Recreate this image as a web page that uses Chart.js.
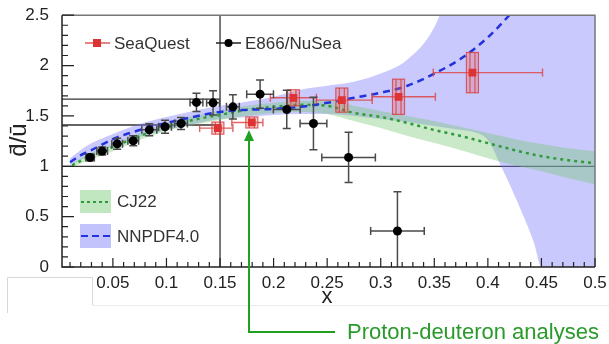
<!DOCTYPE html>
<html>
<head>
<meta charset="utf-8">
<script src="https://cdn.jsdelivr.net/npm/chart.js@4.4.1/dist/chart.umd.min.js"></script>
<style>
  html, body { margin: 0; padding: 0; background: #fff; }
</style>
</head>
<body>
<canvas id="chart" width="609" height="344"></canvas>
<script>
// E866/NuSea points
const e866X = [0.0287, 0.040, 0.054, 0.069, 0.084, 0.0987, 0.1136, 0.128, 0.1435, 0.162, 0.1874, 0.2123, 0.2372, 0.270, 0.3156]
const e866Y = [1.088, 1.151, 1.223, 1.253, 1.362, 1.392, 1.425, 1.634, 1.63, 1.59, 1.716, 1.564, 1.425, 1.088, 0.357]
const e866XErr = [0.004, 0.005, 0.005, 0.005, 0.007, 0.006, 0.006, 0.006, 0.006, 0.006, 0.0125, 0.0125, 0.0125, 0.025, 0.025]
const e866YErr = [0.035, 0.04, 0.055, 0.05, 0.06, 0.065, 0.06, 0.09, 0.12, 0.12, 0.14, 0.19, 0.26, 0.25, 0.39]

// SeaQuest points
const seaX = [0.148, 0.1797, 0.2185, 0.2637, 0.3166, 0.3856]
const seaY = [1.379, 1.435, 1.68, 1.657, 1.69, 1.93]
const seaXLo = [0.131, 0.161, 0.197, 0.240, 0.292, 0.349]
const seaXHi = [0.162, 0.190, 0.240, 0.292, 0.351, 0.451]
const seaSys = [0.06, 0.055, 0.08, 0.12, 0.175, 0.2]

// NNPDF4.0 central curve
const nnpdfX = [0.01, 0.02, 0.03, 0.05, 0.075, 0.1, 0.125, 0.15, 0.175, 0.2, 0.225, 0.25, 0.275, 0.3, 0.325, 0.35, 0.375, 0.4, 0.42, 0.44]
const nnpdfY = [1.04, 1.11, 1.16, 1.27, 1.36, 1.43, 1.49, 1.54, 1.56, 1.57, 1.59, 1.63, 1.68, 1.73, 1.80, 1.92, 2.07, 2.28, 2.5, 2.75]

// NNPDF4.0 band
const nnpdfBandX = [0.01, 0.025, 0.05, 0.075, 0.1, 0.125, 0.15, 0.175, 0.2, 0.225, 0.25, 0.275, 0.3, 0.325, 0.35, 0.375, 0.39, 0.4, 0.411, 0.427, 0.443, 0.45, 0.5]
const nnpdfLow = [1.01, 1.09, 1.20, 1.29, 1.36, 1.42, 1.47, 1.49, 1.51, 1.52, 1.52, 1.50, 1.47, 1.44, 1.40, 1.36, 1.33, 1.26, 1.03, 0.66, 0.24, 0, 0]
const nnpdfHigh = [1.08, 1.20, 1.32, 1.42, 1.49, 1.55, 1.60, 1.64, 1.69, 1.76, 1.80, 1.84, 1.92, 2.06, 2.38, 3.1, 3.5, 3.7, 3.9, 4.1, 4.3, 4.4, 4.6]

// CJ22 curve and band
const cjX = [0.012, 0.025, 0.05, 0.075, 0.1, 0.125, 0.15, 0.175, 0.2, 0.225, 0.25, 0.275, 0.3, 0.325, 0.35, 0.375, 0.4, 0.425, 0.45, 0.475, 0.5]
const cjY = [1.01, 1.08, 1.19, 1.30, 1.39, 1.46, 1.51, 1.56, 1.59, 1.61, 1.60, 1.53, 1.49, 1.43, 1.36, 1.30, 1.23, 1.16, 1.10, 1.06, 1.03]
const cjLow = [0.99, 1.05, 1.15, 1.26, 1.35, 1.41, 1.46, 1.50, 1.53, 1.54, 1.52, 1.45, 1.38, 1.30, 1.23, 1.16, 1.08, 1.01, 0.95, 0.88, 0.82]
const cjHigh = [1.03, 1.11, 1.22, 1.33, 1.43, 1.50, 1.55, 1.60, 1.63, 1.65, 1.65, 1.60, 1.55, 1.50, 1.45, 1.39, 1.33, 1.27, 1.22, 1.18, 1.15]

// axes
const xTicks = [0.05, 0.1, 0.15, 0.2, 0.25, 0.3, 0.35, 0.4, 0.45, 0.5]
const xTickLabels = ['0.05', '0.1', '0.15', '0.2', '0.25', '0.3', '0.35', '0.4', '0.45', '0.5']
const yTicks = [0, 0.5, 1, 1.5, 2, 2.5]
const yTickLabels = ['0', '0.5', '1', '1.5', '2', '2.5']

// reference lines
const unityY = 1
const guideX = 0.15
const guideY = [1.41, 1.667]

const pts = (xs, ys) => xs.map((x, i) => ({ x: x, y: ys[i] }))
const FONT = '"Liberation Sans", Arial, sans-serif'

const guides = {
  id: 'guides',
  beforeDatasetsDraw(chart) {
    const { ctx, chartArea: a, scales: { x, y } } = chart
    ctx.save()
    ctx.strokeStyle = '#333'
    ctx.lineWidth = 1.3
    ctx.beginPath()
    ctx.moveTo(a.left, y.getPixelForValue(unityY))
    ctx.lineTo(a.right, y.getPixelForValue(unityY))
    guideY.forEach(v => {
      ctx.moveTo(a.left, y.getPixelForValue(v))
      ctx.lineTo(x.getPixelForValue(guideX), y.getPixelForValue(v))
    })
    ctx.moveTo(x.getPixelForValue(guideX), a.top)
    ctx.lineTo(x.getPixelForValue(guideX), a.bottom)
    ctx.stroke()
    ctx.restore()
  }
}

// error bars and systematic boxes, drawn under the markers
const errorBars = {
  id: 'errorBars',
  beforeDatasetDraw(chart, args) {
    if (args.index !== 1) return
    const { ctx, chartArea: a, scales: { x, y } } = chart
    ctx.save()
    ctx.beginPath()
    ctx.rect(a.left, a.top, a.right - a.left, a.bottom - a.top)
    ctx.clip()

    // SeaQuest
    seaX.forEach((v, i) => {
      const cx = x.getPixelForValue(v)
      const cy = y.getPixelForValue(seaY[i])
      const x0 = x.getPixelForValue(seaXLo[i])
      const x1 = x.getPixelForValue(seaXHi[i])
      const yt = y.getPixelForValue(seaY[i] + seaSys[i])
      const yb = y.getPixelForValue(seaY[i] - seaSys[i])
      ctx.strokeStyle = 'rgba(220,70,70,0.85)'
      ctx.lineWidth = 1.4
      ctx.beginPath()
      ctx.moveTo(x0, cy); ctx.lineTo(x1, cy)
      ctx.moveTo(x0, cy - 4); ctx.lineTo(x0, cy + 4)
      ctx.moveTo(x1, cy - 4); ctx.lineTo(x1, cy + 4)
      ctx.stroke()
      ctx.fillStyle = 'rgba(235,100,100,0.3)'
      ctx.fillRect(cx - 6, yt, 12, yb - yt)
      ctx.strokeStyle = 'rgba(215,60,60,0.8)'
      ctx.lineWidth = 1.2
      ctx.strokeRect(cx - 6, yt, 12, yb - yt)
      ctx.beginPath()
      ctx.moveTo(cx - 2.5, yt); ctx.lineTo(cx - 2.5, yb)
      ctx.moveTo(cx + 2.5, yt); ctx.lineTo(cx + 2.5, yb)
      ctx.stroke()
    })

    // E866
    ctx.strokeStyle = '#4a4a4a'
    ctx.lineWidth = 1.5
    e866X.forEach((v, i) => {
      const cx = x.getPixelForValue(v)
      const cy = y.getPixelForValue(e866Y[i])
      const x0 = x.getPixelForValue(v - e866XErr[i])
      const x1 = x.getPixelForValue(v + e866XErr[i])
      const y0 = y.getPixelForValue(e866Y[i] + e866YErr[i])
      const y1 = y.getPixelForValue(e866Y[i] - e866YErr[i])
      ctx.beginPath()
      ctx.moveTo(x0, cy); ctx.lineTo(x1, cy)
      ctx.moveTo(x0, cy - 4); ctx.lineTo(x0, cy + 4)
      ctx.moveTo(x1, cy - 4); ctx.lineTo(x1, cy + 4)
      ctx.moveTo(cx, y0); ctx.lineTo(cx, y1)
      ctx.moveTo(cx - 4, y0); ctx.lineTo(cx + 4, y0)
      ctx.moveTo(cx - 4, y1); ctx.lineTo(cx + 4, y1)
      ctx.stroke()
    })
    ctx.restore()
  }
}

// frame, inward ticks, titles, legends and the annotation
const decor = {
  id: 'decor',
  afterDraw(chart) {
    const { ctx, chartArea: a, scales: { x, y } } = chart
    ctx.save()

    // frame
    ctx.strokeStyle = '#777'
    ctx.lineWidth = 1.5
    ctx.beginPath()
    ctx.moveTo(a.left, a.top); ctx.lineTo(a.right, a.top); ctx.lineTo(a.right, a.bottom)
    ctx.stroke()
    ctx.strokeStyle = '#222'
    ctx.beginPath()
    ctx.moveTo(a.left, a.top); ctx.lineTo(a.left, a.bottom); ctx.lineTo(a.right, a.bottom)
    ctx.stroke()

    // ticks
    ctx.lineWidth = 1.2
    ctx.beginPath()
    for (let k = 0; k <= 25; k++) {
      const py = y.getPixelForValue(k / 10)
      const len = k % 5 === 0 ? 12 : 6
      ctx.moveTo(a.left, py); ctx.lineTo(a.left + len, py)
    }
    for (let k = 1; k <= 50; k++) {
      const pxv = x.getPixelForValue(k / 100)
      const len = k % 5 === 0 ? 9 : 5
      ctx.moveTo(pxv, a.bottom); ctx.lineTo(pxv, a.bottom - len)
    }
    ctx.stroke()

    // axis titles
    ctx.fillStyle = '#222'
    ctx.font = '22px ' + FONT
    ctx.textAlign = 'center'
    ctx.textBaseline = 'middle'
    ctx.fillText('x', 327, 297)
    ctx.save()
    ctx.translate(19, 140)
    ctx.rotate(-Math.PI / 2)
    ctx.font = '24px ' + FONT
    ctx.fillText('d\u0304/u\u0304', 0, 0)
    ctx.restore()

    // top legend
    ctx.textAlign = 'left'
    ctx.font = '17px ' + FONT
    ctx.fillStyle = '#333'
    ctx.strokeStyle = 'rgba(220,70,70,0.9)'
    ctx.lineWidth = 1.5
    ctx.beginPath(); ctx.moveTo(85, 43); ctx.lineTo(110, 43); ctx.stroke()
    ctx.fillStyle = '#dd3333'
    ctx.fillRect(93, 39, 8, 8)
    ctx.fillStyle = '#333'
    ctx.fillText('SeaQuest', 114, 44)
    ctx.strokeStyle = '#222'
    ctx.beginPath(); ctx.moveTo(216, 43); ctx.lineTo(241, 43); ctx.stroke()
    ctx.fillStyle = '#000'
    ctx.beginPath(); ctx.arc(228.5, 43, 4, 0, Math.PI * 2); ctx.fill()
    ctx.fillStyle = '#333'
    ctx.fillText('E866/NuSea', 245, 44)

    // bottom legend
    ctx.fillStyle = 'rgba(150,215,150,0.6)'
    ctx.fillRect(80, 190, 31, 23)
    ctx.strokeStyle = '#2f9a3a'
    ctx.lineWidth = 2.2
    ctx.setLineDash([3, 3])
    ctx.beginPath(); ctx.moveTo(81, 202); ctx.lineTo(110, 202); ctx.stroke()
    ctx.fillStyle = 'rgba(120,120,250,0.45)'
    ctx.fillRect(80, 224, 31, 24)
    ctx.strokeStyle = '#2233dd'
    ctx.setLineDash([7, 4])
    ctx.beginPath(); ctx.moveTo(81, 236); ctx.lineTo(110, 236); ctx.stroke()
    ctx.setLineDash([])
    ctx.fillStyle = '#333'
    ctx.fillText('CJ22', 117, 202)
    ctx.fillText('NNPDF4.0', 117, 237)

    // faint leftover box under the axis
    ctx.strokeStyle = '#d8d8d8'
    ctx.lineWidth = 1
    ctx.beginPath()
    ctx.moveTo(7.5, 313); ctx.lineTo(7.5, 277.5); ctx.lineTo(92.5, 277.5); ctx.lineTo(92.5, 305)
    ctx.stroke()
    ctx.strokeStyle = '#ececec'
    ctx.beginPath(); ctx.moveTo(92.5, 305.5); ctx.lineTo(609, 305.5); ctx.stroke()

    // annotation arrow
    const ax = 249
    ctx.strokeStyle = '#22a022'
    ctx.lineWidth = 2
    ctx.beginPath()
    ctx.moveTo(ax, 138); ctx.lineTo(ax, 332); ctx.lineTo(335, 332)
    ctx.stroke()
    ctx.fillStyle = '#22a022'
    ctx.beginPath()
    ctx.moveTo(ax, 130); ctx.lineTo(ax - 5, 141); ctx.lineTo(ax + 5, 141); ctx.closePath()
    ctx.fill()
    ctx.font = '22px ' + FONT
    ctx.fillStyle = '#2a9a2a'
    ctx.fillText('Proton-deuteron analyses', 347, 333)
    ctx.restore()
  }
}

new Chart(document.getElementById('chart'), {
  type: 'line',
  data: {
    datasets: [
      {
        label: 'E866/NuSea',
        data: pts(e866X, e866Y),
        showLine: false,
        pointRadius: 4.5,
        pointBackgroundColor: '#000',
        pointBorderColor: '#000',
        borderWidth: 0,
        order: 0
      },
      {
        label: 'SeaQuest',
        data: pts(seaX, seaY),
        showLine: false,
        pointStyle: 'rect',
        pointRadius: 5.5,
        pointBackgroundColor: '#dd3333',
        pointBorderColor: '#dd3333',
        borderWidth: 0,
        order: 1
      },
      {
        label: 'NNPDF4.0',
        data: pts(nnpdfX, nnpdfY),
        borderColor: '#2233dd',
        borderWidth: 2.5,
        borderDash: [7, 5],
        pointRadius: 0,
        cubicInterpolationMode: 'monotone',
        order: 2
      },
      {
        label: 'CJ22',
        data: pts(cjX, cjY),
        borderColor: '#2f9a3a',
        borderWidth: 2.5,
        borderDash: [3, 4],
        pointRadius: 0,
        cubicInterpolationMode: 'monotone',
        order: 3
      },
      {
        label: 'NNPDF4.0 low',
        data: pts(nnpdfBandX, nnpdfLow),
        borderWidth: 0,
        pointRadius: 0,
        cubicInterpolationMode: 'monotone',
        order: 7
      },
      {
        label: 'NNPDF4.0 band',
        data: pts(nnpdfBandX, nnpdfHigh),
        borderWidth: 0,
        pointRadius: 0,
        backgroundColor: 'rgba(120,120,250,0.4)',
        fill: '-1',
        cubicInterpolationMode: 'monotone',
        order: 6
      },
      {
        label: 'CJ22 low',
        data: pts(cjX, cjLow),
        borderWidth: 0,
        pointRadius: 0,
        cubicInterpolationMode: 'monotone',
        order: 5
      },
      {
        label: 'CJ22 band',
        data: pts(cjX, cjHigh),
        borderWidth: 0,
        pointRadius: 0,
        backgroundColor: 'rgba(120,200,120,0.4)',
        fill: '-1',
        cubicInterpolationMode: 'monotone',
        order: 4
      }
    ]
  },
  options: {
    responsive: false,
    animation: false,
    devicePixelRatio: 1,
    layout: { padding: { top: 15, right: 14, left: 0, bottom: 0 } },
    scales: {
      x: {
        type: 'linear',
        min: 0.0025,
        max: 0.5,
        grid: { display: false },
        border: { display: false },
        afterBuildTicks: s => { s.ticks = xTicks.map(v => ({ value: v })) },
        afterFit: s => { s.height = 77 },
        ticks: {
          padding: -2,
          color: '#222',
          font: { family: FONT, size: 17 },
          maxRotation: 0,
          autoSkip: false,
          callback: (v, i) => xTickLabels[i]
        }
      },
      y: {
        min: 0,
        max: 2.5,
        grid: { display: false },
        border: { display: false },
        afterBuildTicks: s => { s.ticks = yTicks.map(v => ({ value: v })) },
        afterFit: s => { s.width = 62 },
        ticks: {
          padding: 5,
          color: '#222',
          font: { family: FONT, size: 17 },
          callback: (v, i) => yTickLabels[i]
        }
      }
    },
    plugins: {
      legend: { display: false },
      tooltip: { enabled: false }
    }
  },
  plugins: [guides, errorBars, decor]
})
</script>
</body>
</html>
